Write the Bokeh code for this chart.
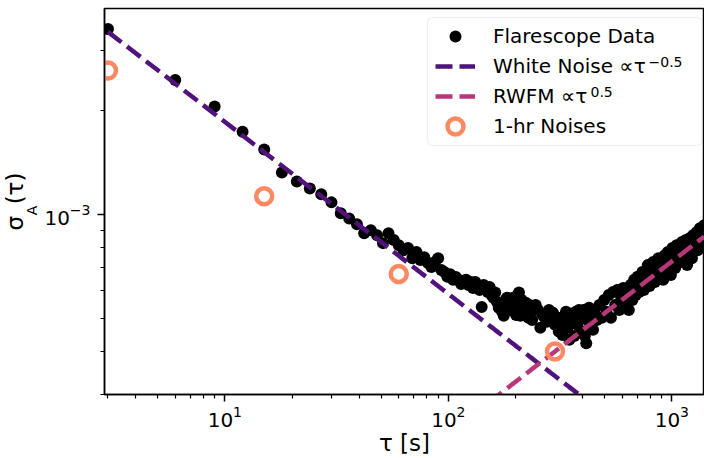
import numpy as np
from bokeh.plotting import figure
from bokeh.models import (FixedTicker, LogTickFormatter, Label, Legend, LegendItem,
                          Range1d, BoxAnnotation, Title)
from bokeh.embed import file_html
from bokeh.resources import INLINE

# ---------------- data ----------------
# averaging time tau [s]
tau_a = [3, 6, 9, 12, 15, 18, 21, 24, 27, 30, 33, 36, 39, 42, 45, 48, 51, 54, 57, 60,
         63, 66, 69, 72, 75, 78, 81, 84, 87, 90, 93, 96, 99, 102, 105, 108, 111, 114, 117, 120,
         123, 126, 129, 132, 135, 138, 141, 144, 147, 150, 153, 156, 159, 162, 165, 168, 171, 174, 177, 180,
         183, 186, 189, 192, 195, 198, 201, 204, 207, 210, 213, 216, 219, 222, 225, 228, 231, 234, 237, 240]
sig_a = [34.6, 24.6, 20.6, 17.4, 15.45, 13.26, 12.48, 11.91, 11.45, 10.85,
         10.09, 9.74, 9.37, 8.83, 9.01, 8.71, 8.26, 8.83, 8.43, 8.15,
         7.88, 7.99, 7.47, 7.78, 7.38, 7.52, 7.23, 7.04, 7.28, 7.47,
         6.90, 6.81, 6.60, 6.71, 6.46, 6.59, 6.46, 6.28, 6.33, 6.46,
         6.24, 6.37, 6.12, 6.37, 6.20, 6.04, 5.39, 6.24, 6.12, 5.96,
         6.16, 5.84, 5.73, 5.94, 5.57, 5.36, 5.46, 5.22, 5.08, 5.65,
         5.73, 5.46, 5.28, 5.54, 5.73, 5.36, 5.11, 5.84, 5.94, 5.08,
         5.65, 5.36, 5.22, 5.54, 5.28, 5.01, 5.46, 5.22, 4.94, 5.39]
tau_b = [246, 252, 258, 264, 270, 276, 282, 288, 294, 300,
         306, 312, 318, 324, 330, 336, 342, 348, 354, 360,
         366, 372, 378, 384, 390, 396, 402, 408, 414, 420,
         426, 432, 438, 444, 450]
sig_b = [5.46, 5.28, 4.69, 5.11, 5.01, 4.88, 5.28, 5.11, 5.18, 4.78,
         4.94, 4.57, 5.01, 4.47, 4.88, 5.22, 4.69, 4.33, 5.15, 4.94,
         4.44, 5.22, 4.78, 5.28, 5.01, 4.57, 5.28, 4.44, 4.23, 4.94,
         5.36, 4.78, 5.11, 4.63, 5.22]
tau_c = [462, 474, 486, 498, 510, 522, 534, 546, 558, 570,
         582, 594, 606, 618, 630, 642, 654, 666, 678, 690,
         702, 714, 726, 738, 750]
sig_c = [4.94, 5.46, 5.01, 5.65, 5.22, 5.84, 5.01, 5.96, 5.46, 6.04,
         5.28, 5.73, 6.12, 5.46, 5.96, 5.28, 6.24, 5.65, 6.46, 5.84,
         6.60, 5.96, 6.24, 6.81, 6.04]
tau_d = [765, 780, 795, 810, 825, 840, 855, 870, 885, 900,
         915, 930, 945, 960, 975, 990, 1005, 1020, 1035, 1050,
         1065, 1080, 1095, 1110, 1125, 1140, 1155, 1170, 1185, 1200,
         1215, 1230, 1245, 1260, 1275, 1290, 1305, 1320, 1335, 1350,
         1365, 1380, 1395]
sig_d = [6.53, 7.13, 6.20, 6.90, 7.28, 6.37, 6.99, 7.47, 6.67, 7.28,
         6.46, 7.62, 6.90, 7.78, 7.28, 6.67, 7.99, 7.47, 6.99, 8.15,
         7.62, 7.88, 7.28, 8.32, 7.62, 7.99, 8.43, 7.13, 7.88, 8.54,
         8.15, 7.47, 8.71, 7.99, 8.43, 8.89, 7.88, 8.43, 9.13, 8.15,
         8.66, 9.01, 9.31]

# 1-hr noise estimates
hr_tau = [3, 15, 60, 300]
hr_sig = [26.2, 11.3, 6.72, 4.00]          # units of 1e-4

# fitted noise models: sigma = coef * tau**slope
wn_coef, wn_slope = 5.88e-3, -0.5
rw_coef, rw_slope = 2.31e-5, 0.5

x_major = [10, 100, 1000]
x_minor = [3, 4, 5, 6, 7, 8, 9, 20, 30, 40, 50, 60, 70, 80, 90,
           200, 300, 400, 500, 600, 700, 800, 900]
y_major = [1e-3]
y_minor = [3e-4, 4e-4, 5e-4, 6e-4, 7e-4, 8e-4, 9e-4, 2e-3, 3e-3]

# ---------------- build arrays ----------------
tau = np.array(tau_a + tau_b + tau_c + tau_d, dtype=float)
sig = np.array(sig_a + sig_b + sig_c + sig_d) * 1e-4
hr_t = np.array(hr_tau, dtype=float)
hr_s = np.array(hr_sig) * 1e-4
wn = wn_coef * tau ** wn_slope
rw = rw_coef * tau ** rw_slope

PURPLE = "#51127c"
PINK = "#b73779"
ORANGE = "#fc8961"
FONT = "DejaVu Sans"

p = figure(width=704, height=458, x_axis_type="log", y_axis_type="log",
           x_range=Range1d(2.894, 1400), y_range=Range1d(3.0e-4, 3.97e-3),
           output_backend="svg", toolbar_location=None,
           min_border_left=104, min_border_right=0, min_border_top=8, min_border_bottom=63)
p.background_fill_color = "white"
p.border_fill_color = "white"
p.xgrid.visible = False
p.ygrid.visible = False
p.outline_line_color = "black"
p.outline_line_width = 1.5

for ax in (p.xaxis[0], p.yaxis[0]):
    ax.axis_line_color = "black"
    ax.axis_line_width = 1.5
    ax.major_tick_line_color = "black"
    ax.minor_tick_line_color = "black"
    ax.major_tick_line_width = 1.5
    ax.minor_tick_line_width = 1.2
    ax.major_tick_in = 0
    ax.major_tick_out = 7
    ax.minor_tick_in = 0
    ax.minor_tick_out = 4
    ax.major_label_text_font = FONT
    ax.major_label_text_font_size = "20px"
    ax.major_label_text_color = "black"
    ax.formatter = LogTickFormatter()

p.xaxis.ticker = FixedTicker(ticks=x_major, minor_ticks=x_minor)
p.yaxis.ticker = FixedTicker(ticks=y_major, minor_ticks=y_minor)
p.xaxis.major_label_standoff = 4
p.yaxis.major_label_standoff = 7
p.xaxis.axis_label = "τ [s]"
p.xaxis.axis_label_text_font = FONT
p.xaxis.axis_label_text_font_size = "23px"
p.xaxis.axis_label_text_font_style = "normal"
p.xaxis.axis_label_text_color = "black"
p.xaxis.axis_label_standoff = 0

# y label: subscript "A" as the axis label, "σ (τ)" as a side title further out
p.yaxis.axis_label = "A    "
p.yaxis.axis_label_text_font = FONT
p.yaxis.axis_label_text_font_size = "14px"
p.yaxis.axis_label_text_font_style = "normal"
p.yaxis.axis_label_text_color = "black"
p.yaxis.axis_label_standoff = 1
p.add_layout(Title(text="σ\u2002(τ)", align="center", standoff=-13,
                   text_font=FONT, text_font_size="23px", text_font_style="normal",
                   text_color="black"), "left")

r_data = p.scatter(tau, sig, size=12, fill_color="black", line_color="black", line_width=0)
r_wn = p.line(tau, wn, line_color=PURPLE, line_width=4.5, line_dash="17 7")
r_rw = p.line(tau, rw, line_color=PINK, line_width=4.5, line_dash="17 7")
r_hr = p.scatter(hr_t, hr_s, size=16, fill_color=None, line_color=ORANGE, line_width=4.5)

# legend frame
p.add_layout(BoxAnnotation(left=323, right=597.5, top=377, bottom=249,
                           left_units="screen", right_units="screen",
                           top_units="screen", bottom_units="screen",
                           fill_color="white", fill_alpha=0.85,
                           line_color="#cccccc", line_width=1.2, border_radius=5))

common = dict(orientation="vertical", glyph_width=40, spacing=0, padding=0, margin=0,
              label_standoff=18, label_text_font=FONT, label_text_font_size="20px",
              label_text_color="black", background_fill_alpha=0, border_line_alpha=0)
legend1 = Legend(items=[LegendItem(label="Flarescope Data", renderers=[r_data]),
                        LegendItem(label="White Noise ∝τ", renderers=[r_wn]),
                        LegendItem(label="RWFM ∝τ", renderers=[r_rw])],
                 location=(331, 283), glyph_height=30, label_height=30, **common)
legend2 = Legend(items=[LegendItem(label="1-hr Noises", renderers=[r_hr])],
                 location=(331, 248), glyph_height=40, label_height=40, **common)
p.add_layout(legend1)
p.add_layout(legend2)

# exponents in legend
p.add_layout(Label(x=544, y=333, x_units="screen", y_units="screen", text="−0.5",
                   text_font=FONT, text_font_size="14px", text_color="black",
                   text_baseline="alphabetic", text_align="left"))
p.add_layout(Label(x=486, y=303, x_units="screen", y_units="screen", text="0.5",
                   text_font=FONT, text_font_size="14px", text_color="black",
                   text_baseline="alphabetic", text_align="left"))

open("out.html", "w").write(file_html(p, INLINE))
